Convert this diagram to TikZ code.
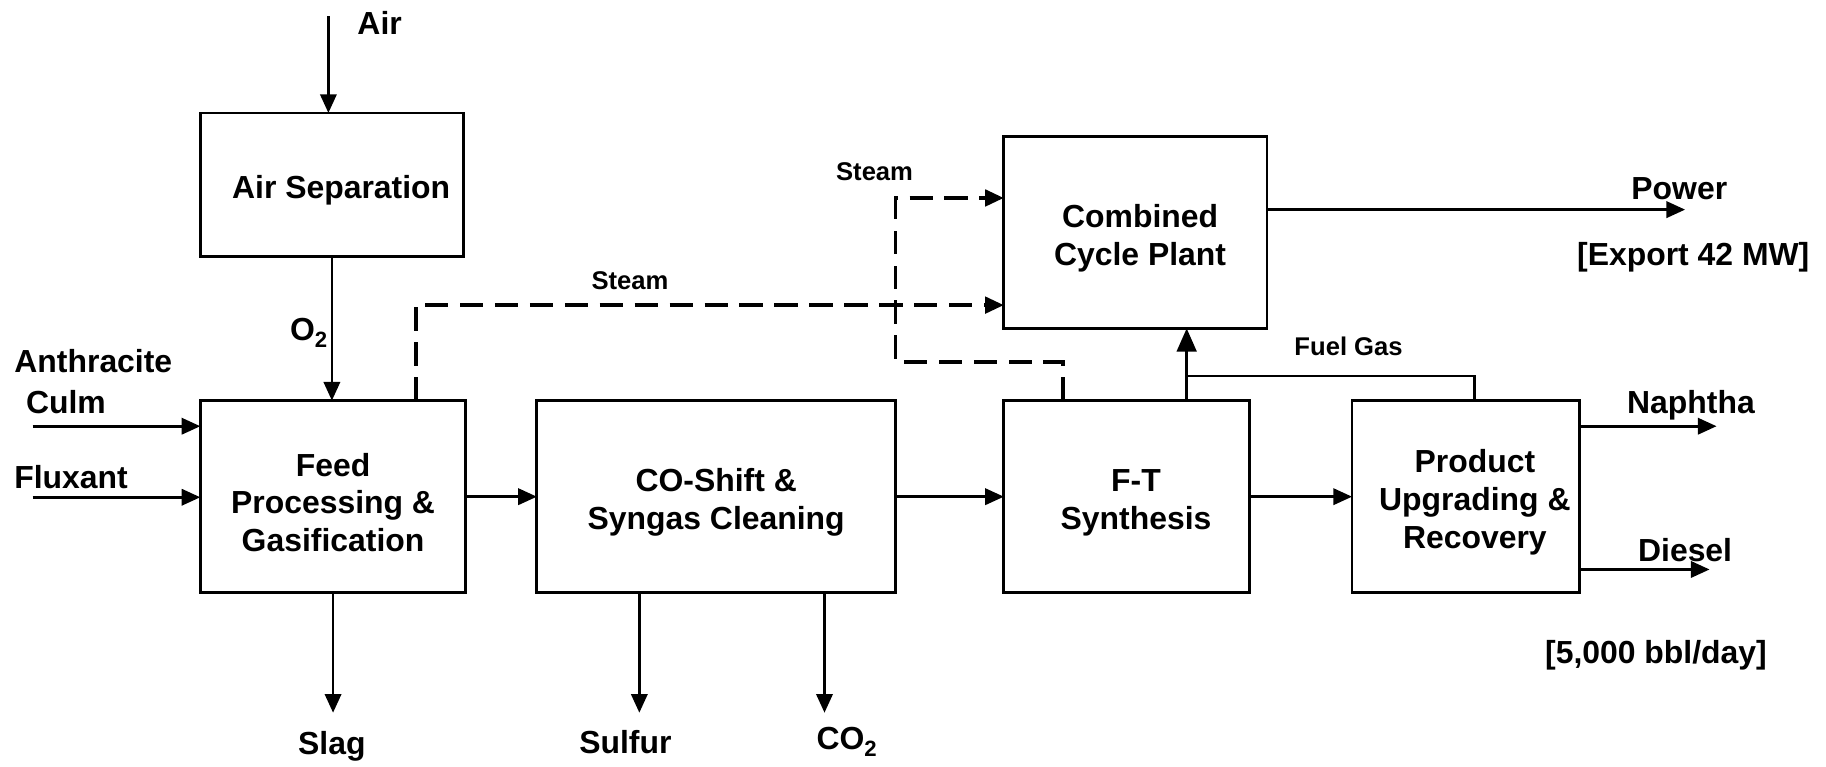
\documentclass[tikz,border=0pt]{standalone}
\usepackage{fontspec}
\setmainfont{Liberation Sans}
\usetikzlibrary{arrows.meta}

\begin{document}
\begin{tikzpicture}[x=0.5pt,y=-0.5pt]
\tikzset{
    unit/.style={
        draw,
        rectangle,
        line width=1.2pt,
        inner sep=0pt,
        outer sep=0pt,
        align=center,
        font=\fontsize{13.7}{16.25}\selectfont\bfseries
    },
    lbl/.style={
        inner sep=0pt,
        font=\fontsize{13.7}{17.5}\selectfont\bfseries
    },
    small lbl/.style={
        inner sep=0pt,
        font=\fontsize{11}{13}\selectfont\bfseries
    },
    flow/.style={
        line width=1.1pt,
        -{Triangle[length=8pt,width=7pt]}
    },
    fuel/.style={
        line width=1.1pt,
        -{Triangle[length=10pt,width=8.5pt]}
    },
    steam/.style={
        line width=1.6pt,
        dash pattern=on 10pt off 5pt,
        -{Triangle[length=8pt,width=7pt]}
    },
}
\newcommand{\lowsub}[1]{\raisebox{-0.45ex}{\fontsize{9.5}{9.5}\selectfont #1}}
\newcommand{\upstrut}{\rule{0pt}{15pt}}
\useasboundingbox (0,0) rectangle (1568,658);

% process units
\node[unit, minimum width=113pt, minimum height=61.5pt] (airsep) at (285,158.5) {\upstrut\hspace*{8pt}Air Separation};
\node[unit, minimum width=114pt, minimum height=82.5pt] (feed) at (286,426.5) {\upstrut Feed\\Processing \&\\Gasification};
\node[unit, minimum width=154pt, minimum height=82.5pt] (shift) at (615,426.5) {\upstrut CO-Shift \&\\Syngas Cleaning};
\node[unit, minimum width=105.5pt, minimum height=82.5pt] (ft) at (967.5,426.5) {\upstrut\hspace*{8pt}F-T\\\hspace*{8pt}Synthesis};
\node[unit, minimum width=97.5pt, minimum height=82.5pt] (prod) at (1258.5,426.5) {\upstrut\hspace*{8pt}Product\\\hspace*{8pt}Upgrading \&\\\hspace*{8pt}Recovery};
\node[unit, minimum width=113pt, minimum height=82.5pt] (cc) at (975,199.5) {\upstrut\hspace*{4pt}Combined\\\hspace*{4pt}Cycle Plant};

% stream labels
\node[lbl] (airlbl) at (326,20) {Air};
\node[lbl] (o2lbl) at (265,286) {O\lowsub{2}};
\node[lbl, align=left, anchor=west] (culmlbl) at (12,328) {Anthracite\\\hspace*{5pt}Culm};
\node[lbl] (fluxlbl) at (61,410) {Fluxant};
\node[lbl] (slaglbl) at (285,641) {Slag};
\node[lbl] (sulfurlbl) at (537,637) {Sulfur};
\node[lbl] (co2lbl) at (727,637) {CO\lowsub{2}};
\node[small lbl] (steamlbl) at (541,241) {Steam};
\node[small lbl] (steamlblb) at (751,147) {Steam};
\node[small lbl] (fuellbl) at (1158,297) {Fuel Gas};
\node[lbl] (powerlbl) at (1442,162) {Power};
\node[lbl] (exportlbl) at (1454,221) {[Export 42 MW]};
\node[lbl] (naphlbl) at (1452,348) {Naphtha};
\node[lbl] (diesellbl) at (1447,472) {Diesel};
\node[lbl] (bbllbl) at (1422,563) {[5,000 bbl/day]};

% free ends and bends
\coordinate (airin) at (282,14);
\coordinate (culmin) at (28,366);
\coordinate (fluxin) at (28,427);
\coordinate (slagout) at (286,612);
\coordinate (sulfurout) at (549,612);
\coordinate (co2out) at (708,612);
\coordinate (powerout) at (1447,180);
\coordinate (naphout) at (1474,366);
\coordinate (dieselout) at (1468,489);
\coordinate (fgjoin) at (1019,323);
\coordinate (fgtap) at (1266,323);
\coordinate (stma) at (357,262);
\coordinate (stmb) at (913,311);
\coordinate (stmc) at (769,311);
\coordinate (stmd) at (769,170);

% main flows
\draw[flow] (airin) -- (airin |- airsep.north);
\draw[flow] (airsep.south) -- (airsep.south |- feed.north);
\draw[flow] (culmin) -- (culmin -| feed.west);
\draw[flow] (fluxin) -- (fluxin -| feed.west);
\draw[flow] (feed.east) -- (shift.west);
\draw[flow] (shift.east) -- (ft.west);
\draw[flow] (ft.east) -- (prod.west);
\draw[flow] (feed.south) -- (slagout);
\draw[flow] (sulfurout |- shift.south) -- (sulfurout);
\draw[flow] (co2out |- shift.south) -- (co2out);
\draw[flow] (powerout -| cc.east) -- (powerout);
\draw[flow] (naphout -| prod.east) -- (naphout);
\draw[flow] (dieselout -| prod.east) -- (dieselout);

% fuel gas
\draw[fuel] (fgjoin |- ft.north) -- (fgjoin |- cc.south);
\draw[line width=1.1pt] (fgjoin) -- (fgtap) -- (fgtap |- prod.north);

% steam
\draw[steam] (stma |- feed.north) -- (stma) -- (stma -| cc.west);
\draw[steam] (stmb |- ft.north) -- (stmb) -- (stmc) -- (stmd) -- (stmd -| cc.west);
\end{tikzpicture}
\end{document}
